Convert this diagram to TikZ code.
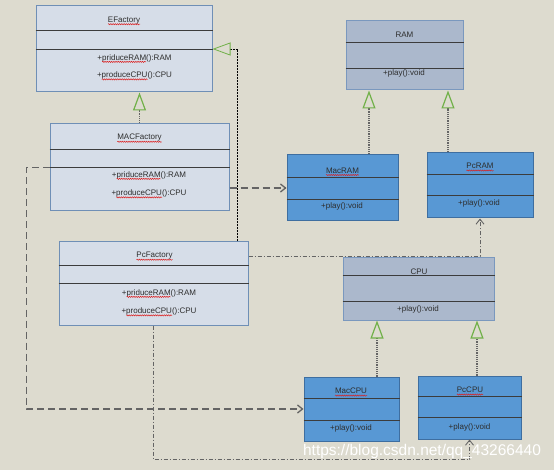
\documentclass[tikz,border=0pt]{standalone}
\usepackage{fontspec}
\setmainfont{Liberation Sans}
\usetikzlibrary{arrows.meta,decorations.pathmorphing}
\definecolor{paper}{RGB}{221,219,207}
\definecolor{factoryfill}{RGB}{214,221,232}
\definecolor{factoryedge}{RGB}{111,143,182}
\definecolor{ifacefill}{RGB}{171,184,204}
\definecolor{ifaceedge}{RGB}{122,152,190}
\definecolor{productfill}{RGB}{88,152,212}
\definecolor{productedge}{RGB}{62,110,160}
\definecolor{sepgray}{RGB}{60,60,60}
\definecolor{textgray}{RGB}{45,45,45}
\definecolor{linegray}{RGB}{100,100,100}
\definecolor{realgreen}{RGB}{112,176,72}
\definecolor{typored}{RGB}{220,30,30}
\newcommand\typo[1]{\tikz[baseline=(w.base)]{\node[inner sep=0pt,outer sep=0pt] (w) {#1};
  \draw[overlay,typored,line width=0.5pt,decorate,decoration={snake,amplitude=0.6pt,segment length=2.2pt}] ([yshift=-1.8pt]w.base west) -- ([yshift=-1.8pt]w.base east);}}

\begin{document}
\begin{tikzpicture}[x=1pt,y=-1pt]
\tikzstyle{factory}=[draw=factoryedge,fill=factoryfill,line width=1pt,inner sep=0pt]
\tikzstyle{iface}=[draw=ifaceedge,fill=ifacefill,line width=1pt,inner sep=0pt]
\tikzstyle{product}=[draw=productedge,fill=productfill,line width=1pt,inner sep=0pt]
\tikzstyle{member}=[font=\fontsize{8}{9}\selectfont,text=textgray,inner sep=0pt]
\tikzstyle{sep}=[draw=sepgray,line width=0.9pt]
\tikzstyle{realize}=[draw=linegray,densely dotted,line width=1.2pt,-{Triangle[open,length=18pt,width=13pt,color=realgreen]}]
\tikzstyle{depend}=[draw=linegray,line width=1.3pt,dash pattern=on 7pt off 4pt,-{Straight Barb[length=5pt,width=8pt]}]
\tikzstyle{create}=[draw=linegray,line width=0.9pt,dash pattern=on 4pt off 2pt on 1pt off 2pt,-{Straight Barb[length=5pt,width=8pt]}]
\useasboundingbox (0,0) rectangle (554,470);
\fill[paper] (0,0) rectangle (554,470);
% factories
\node[factory,minimum width=176pt,minimum height=86pt] (efac) at (124,49) {};
\node[factory,minimum width=179pt,minimum height=87pt] (mfac) at (139.5,167.5) {};
\node[factory,minimum width=189pt,minimum height=83pt] (pfac) at (153.5,283.5) {};
% products
\node[iface,minimum width=117pt,minimum height=69pt] (ram) at (404.5,55.5) {};
\node[product,minimum width=111pt,minimum height=66pt] (mram) at (342.5,188) {};
\node[product,minimum width=106pt,minimum height=65pt] (pram) at (480,185.5) {};
\node[iface,minimum width=151pt,minimum height=62pt] (cpu) at (418.5,289) {};
\node[product,minimum width=95pt,minimum height=64pt] (mcpu) at (351.5,409) {};
\node[product,minimum width=103pt,minimum height=63pt] (pcpu) at (469.5,407.5) {};
\foreach \b/\s/\t in {efac/30/49,mfac/149/167,pfac/265/283,ram/42/68,mram/177/199,pram/174/195,cpu/275/301,mcpu/398/420,pcpu/396/417}
  \draw[sep] (\b.west |- 0,\s) -- (\b.east |- 0,\s) (\b.west |- 0,\t) -- (\b.east |- 0,\t);
% texts
\node[member] (efact) at (124,20.5) {\typo{EFactory}};
\node[member] at (134.5,58) {+\typo{priduceRAM}():RAM};
\node[member] at (134.5,75.5) {+\typo{produceCPU}():CPU};
\node[member] (mfact) at (139.5,138) {\typo{MACFactory}};
\node[member] at (149,175) {+\typo{priduceRAM}():RAM};
\node[member] at (149,193.5) {+\typo{produceCPU}():CPU};
\node[member] (pfact) at (154.5,256) {\typo{PcFactory}};
\node[member] at (159,293) {+\typo{priduceRAM}():RAM};
\node[member] at (159,311.5) {+\typo{produceCPU}():CPU};
\node[member] (ramt) at (404.5,35) {RAM};
\node[member] at (404,73) {+play():void};
\node[member] (mramt) at (342.5,170.5) {\typo{MacRAM}};
\node[member] at (342,206) {+play():void};
\node[member] (pramt) at (480,166) {\typo{PcRAM}};
\node[member] at (479,203) {+play():void};
\node[member] (cput) at (419,271.5) {CPU};
\node[member] at (418,309) {+play():void};
\node[member] (mcput) at (351,391) {\typo{MacCPU}};
\node[member] at (351,428) {+play():void};
\node[member] (pcput) at (470,390) {\typo{PcCPU}};
\node[member] at (469.5,427) {+play():void};
% realizations
\coordinate (ramL) at ([xshift=-35.5pt]ram.south);
\coordinate (ramR) at ([xshift=43.5pt]ram.south);
\coordinate (cpuL) at ([xshift=-41.5pt]cpu.south);
\coordinate (cpuR) at ([xshift=58.5pt]cpu.south);
\draw[realize] (mfac.north) -- (mfac.north |- efac.south);
\draw[realize,draw=black,dash pattern=on 2pt off 1pt,line width=0.8pt] ([xshift=-11pt]pfac.north east) |- (efac.east);
\draw[realize] (ramL |- mram.north) -- (ramL);
\draw[realize] (ramR |- pram.north) -- (ramR);
\draw[realize] (cpuL |- mcpu.north) -- (cpuL);
\draw[realize] (cpuR |- pcpu.north) -- (cpuR);
% dependencies
\draw[depend] (mfac.east |- mram.west) -- (mram.west);
\draw[depend] (mfac.west) -- ++(-23,0) |- (mcpu.west);
\draw[create] (pfac.east |- pfact) -| (pram.south);
\draw[create] (pfac.south) -- ++(0,134) -| (pcpu.south);
\node[font=\fontsize{15.5}{16}\selectfont,text=white,anchor=base] (mark) at (422,455) {https://blog.csdn.net/qq\_43266440};
\end{tikzpicture}
\end{document}
